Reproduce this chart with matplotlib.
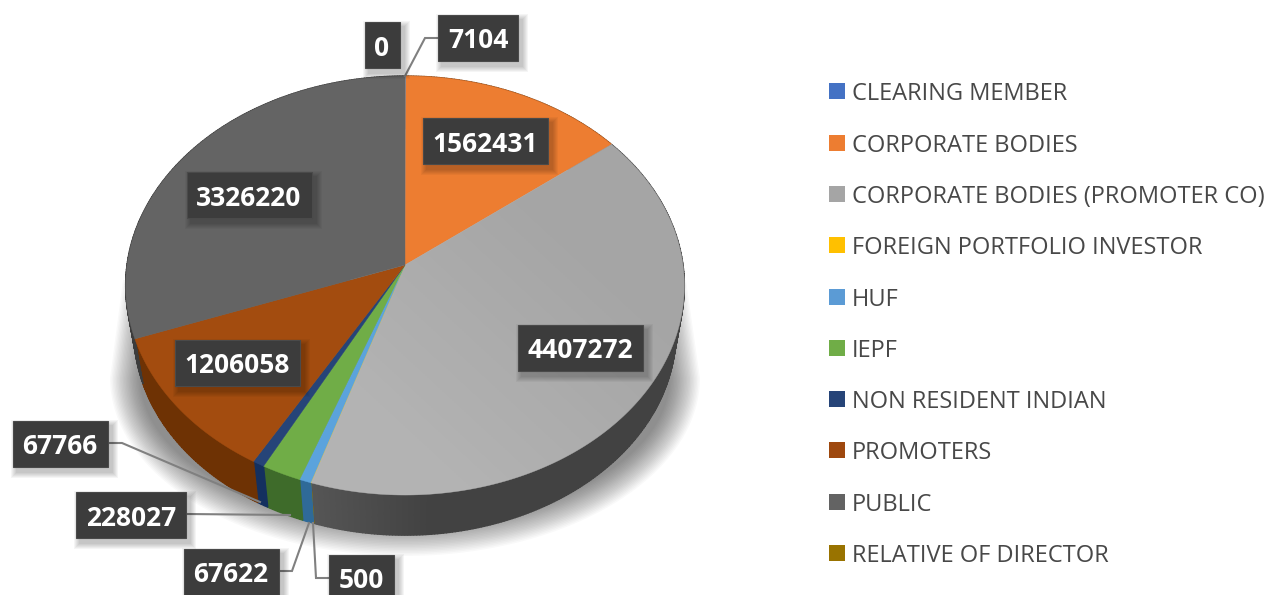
import numpy as np
import matplotlib
matplotlib.use("Agg")
import matplotlib.pyplot as plt
from matplotlib.patches import Rectangle, Polygon

plt.rcParams['font.family'] = ['Open Sans', 'DejaVu Sans']

categories = ["CLEARING MEMBER", "CORPORATE BODIES", "CORPORATE BODIES (PROMOTER CO)",
              "FOREIGN PORTFOLIO INVESTOR", "HUF", "IEPF", "NON RESIDENT INDIAN",
              "PROMOTERS", "PUBLIC", "RELATIVE OF DIRECTOR"]
values = [7104, 1562431, 4407272, 500, 67622, 228027, 67766, 1206058, 3326220, 0]
top_colors = ["#7d8fa8", "#ed7d31", "#a5a5a5", "#ffc000", "#5ba3dc", "#70ad47",
              "#264478", "#a34c0f", "#646464", "#997300"]
legend_colors = ["#4472c4", "#ed7d31", "#a5a5a5", "#ffc000", "#5b9bd5", "#70ad47",
                 "#264478", "#9e480e", "#636363", "#997300"]
wall_colors = ["#4a5a70", "#8a4a1a", "#424242", "#8a6a00", "#2f6a98", "#3e6b2a",
               "#14305f", "#6e3204", "#3c3c3c", "#5c4500"]

# label centre x, centre y (in pixels of the reference)
label_pos = [(478, 38), (485.5, 141), (580.5, 348), (361, 578), (231, 572),
             (131, 515), (60, 444), (237.5, 362.5), (249, 195), (382, 45)]
leaders = {0: [(438, 38), (425, 38), (405, 76)],
           3: [(329, 578), (316, 578), (313, 523)],
           4: [(278, 571), (292, 571), (309, 523)],
           5: [(187, 514), (290, 515)],
           6: [(108, 443), (122, 443), (260, 502)]}
legend_y = [91, 143, 194, 245, 297, 348, 399, 450, 502, 553]

CX, CY = 405, 265
A, B, K = 278, 207.5, 0.098
DEPTH, LOWER = 47, 0.97


def rim(theta, scale=1.0, dy=0.0):
    # perspective projection of the pie disk, theta clockwise from the top
    u, v = np.sin(theta), np.cos(theta)
    w = 1 + K * v
    return CX + scale * A * u / w, CY + dy - scale * B * v / w


fig = plt.figure(figsize=(12.69, 5.95), dpi=100)
ax = fig.add_axes([0, 0, 1, 1])
ax.set_xlim(0, 1269)
ax.set_ylim(595, 0)
ax.axis('off')

# soft shadow under the pie
t = np.linspace(0, np.pi, 120)
for i in range(22):
    f = i / 21
    sx = 295 - 30 * f
    sb = 178 - 32 * f
    xs = 405 + sx * np.cos(t)
    ys = 378 + sb * np.sin(t)
    top_l, top_r = 123 + 28 * f, 686 - 28 * f
    poly = np.column_stack([np.r_[top_r, xs, top_l], np.r_[280, ys, 280]])
    ax.add_patch(Polygon(poly, closed=True, fc='black', ec='none', alpha=0.022, zorder=1))

fracs = np.cumsum([0] + values) / sum(values)
angles = 2 * np.pi * fracs

# side wall
for i, val in enumerate(values):
    if val == 0:
        continue
    t0, t1 = angles[i], angles[i + 1]
    n = max(2, int((t1 - t0) / 0.01))
    edges = np.linspace(t0, t1, n + 1)
    base = np.array(matplotlib.colors.to_rgb(wall_colors[i]))
    for j in range(n):
        th = np.linspace(edges[j], edges[j + 1], 3)
        x1, y1 = rim(th)
        x2, y2 = rim(th[::-1], LOWER, DEPTH)
        # the wall gets a little lighter towards the left
        light = 1 + 0.3 * np.clip((430 - x1[0]) / 120, 0, 1) if i == 2 else 1
        col = np.clip(base * light, 0, 1)
        ax.fill(np.r_[x1, x2], np.r_[y1, y2], fc=col, ec=col, lw=1.0, zorder=2)

# top surface
grey_patch = None
for i, val in enumerate(values):
    if val == 0:
        continue
    th = np.linspace(angles[i], angles[i + 1], max(3, int((angles[i + 1] - angles[i]) * 80)))
    x, y = rim(th)
    filled = ax.fill(np.r_[CX, x], np.r_[CY, y], fc=top_colors[i], ec=top_colors[i],
                     lw=0.3, zorder=3)[0]
    if i == 2:
        grey_patch = filled

# faint lighting on the big grey slice only
gx, gy = np.meshgrid(np.linspace(0, 1, 200), np.linspace(0, 1, 200))
shade = np.zeros((200, 200, 4))
shade[..., :3] = 1
shade[..., 3] = np.clip(0.16 * (gy - gx + 0.45), 0, 0.16)
im = ax.imshow(shade, extent=(300, 690, 500, 140), zorder=3.5, aspect='auto')
im.set_clip_path(grey_patch)
ax.set_xlim(0, 1269)
ax.set_ylim(595, 0)

# leader lines
for pts in leaders.values():
    ax.plot([p[0] for p in pts], [p[1] for p in pts], color='#808080', lw=1.5,
            solid_joinstyle='miter', zorder=4)

# data labels
for val, (lx, ly) in zip(values, label_pos):
    s = str(val)
    w = 15 * len(s) + 20
    for k in range(6):
        g = 6 - k
        ax.add_patch(Rectangle((lx - w / 2 + 4 - g, ly - 23 + 5 - g), w + 2 * g, 46 + 2 * g,
                               fc='black', ec='none', alpha=0.04, zorder=5))
    ax.add_patch(Rectangle((lx - w / 2, ly - 23), w, 46, fc='#3c3c3c', ec='#4a4a4a',
                           lw=0.8, zorder=6))
    ax.text(lx, ly, s, color='white', fontsize=19, fontweight='bold', ha='center',
            va='center_baseline', zorder=7)

# legend
for name, col, ly in zip(categories, legend_colors, legend_y):
    ax.add_patch(Rectangle((829, ly - 8), 16, 16, fc=col, ec='none', zorder=3))
    ax.text(852, ly, name, color='#484848', fontsize=17.0, ha='left', va='center_baseline')

fig.savefig("out.png", dpi=100)
